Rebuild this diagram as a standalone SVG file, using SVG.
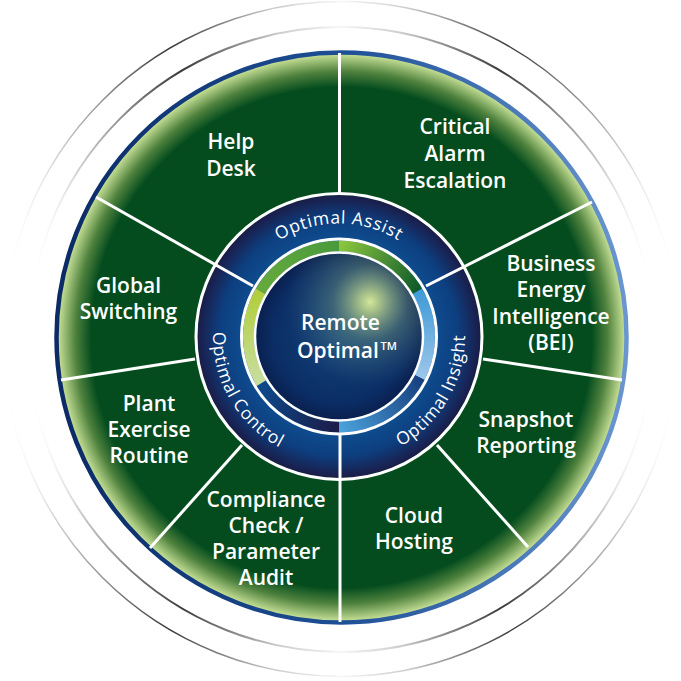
<svg xmlns="http://www.w3.org/2000/svg" width="681" height="681" viewBox="0 0 681 681">
  <defs>
    <linearGradient id="arcFade" x1="0" y1="0" x2="1" y2="0">
      <stop offset="0" stop-color="#ffffff" stop-opacity="0"/>
      <stop offset="0.08" stop-color="#d0d0d0"/>
      <stop offset="0.245" stop-color="#3a3a3a"/>
      <stop offset="0.4" stop-color="#cccccc"/>
      <stop offset="0.5" stop-color="#f6f6f6"/>
      <stop offset="0.6" stop-color="#cccccc"/>
      <stop offset="0.755" stop-color="#3a3a3a"/>
      <stop offset="0.92" stop-color="#d0d0d0"/>
      <stop offset="1" stop-color="#ffffff" stop-opacity="0"/>
    </linearGradient>
    <radialGradient id="discFill" gradientUnits="userSpaceOnUse" cx="341.5" cy="337.5" r="283">
      <stop offset="0" stop-color="#044c1e"/>
      <stop offset="0.885" stop-color="#044c1e"/>
      <stop offset="0.94" stop-color="#4e813d"/>
      <stop offset="1" stop-color="#c3dd93"/>
    </radialGradient>
    <linearGradient id="discBorder" x1="0" y1="0" x2="1" y2="0">
      <stop offset="0" stop-color="#0b2a66"/>
      <stop offset="0.5" stop-color="#1d4f95"/>
      <stop offset="1" stop-color="#6a96d0"/>
    </linearGradient>
    <radialGradient id="ringFill" gradientUnits="userSpaceOnUse" cx="339" cy="336.5" r="141.5">
      <stop offset="0.68" stop-color="#0e4d8f"/>
      <stop offset="0.84" stop-color="#0d3f80"/>
      <stop offset="1" stop-color="#1b1c48"/>
    </radialGradient>
    <radialGradient id="coreFill" gradientUnits="userSpaceOnUse" cx="339" cy="336.5" r="83">
      <stop offset="0" stop-color="#14447c"/>
      <stop offset="0.8" stop-color="#0b2d65"/>
      <stop offset="1" stop-color="#0a2050"/>
    </radialGradient>
    <radialGradient id="coreGlow" gradientUnits="userSpaceOnUse" cx="370" cy="302" r="85">
      <stop offset="0" stop-color="#d4e69a" stop-opacity="1"/>
      <stop offset="0.12" stop-color="#b8d18c" stop-opacity="0.88"/>
      <stop offset="0.45" stop-color="#6f957f" stop-opacity="0.45"/>
      <stop offset="1" stop-color="#3a6a80" stop-opacity="0"/>
    </radialGradient>
    <linearGradient id="gA1" gradientUnits="userSpaceOnUse" x1="260.6" y1="291.3" x2="339" y2="246">
      <stop offset="0" stop-color="#66aa3c"/><stop offset="1" stop-color="#4a9a3c"/>
    </linearGradient>
    <linearGradient id="gA2" gradientUnits="userSpaceOnUse" x1="339" y1="246" x2="417.4" y2="291.3">
      <stop offset="0" stop-color="#8cc63f"/><stop offset="1" stop-color="#0e5a2a"/>
    </linearGradient>
    <linearGradient id="gI1" gradientUnits="userSpaceOnUse" x1="417.4" y1="291.3" x2="419.6" y2="377.6">
      <stop offset="0" stop-color="#3f9bd6"/><stop offset="1" stop-color="#9cc6ea"/>
    </linearGradient>
    <linearGradient id="gI2" gradientUnits="userSpaceOnUse" x1="419.6" y1="377.6" x2="339" y2="427">
      <stop offset="0" stop-color="#173f7e"/><stop offset="1" stop-color="#4aa2dc"/>
    </linearGradient>
    <linearGradient id="gC1" gradientUnits="userSpaceOnUse" x1="339" y1="427" x2="261.4" y2="383.1">
      <stop offset="0" stop-color="#1c1c48"/><stop offset="1" stop-color="#0d4a8c"/>
    </linearGradient>
    <linearGradient id="gC2" gradientUnits="userSpaceOnUse" x1="261.4" y1="383.1" x2="260.6" y2="291.3">
      <stop offset="0" stop-color="#c8dea0"/><stop offset="1" stop-color="#b0ce3a"/>
    </linearGradient>
    <path id="pAssist" d="M226,336.5 A113,113 0 0 1 452,336.5"/>
    <path id="pControl" d="M276,227.38 A126,126 0 0 0 402,445.62"/>
    <path id="pInsight" d="M276,445.62 A126,126 0 0 0 402,227.38"/>
  </defs>
  <style>
    .halo { fill: none; stroke: url(#arcFade); }
    .div { stroke: #ffffff; stroke-width: 3; fill: none; }
    .wc { fill: none; stroke: #ffffff; }
    .band { fill: none; stroke-width: 11; }
    .lbl { fill: #ffffff; font-family: "Open Sans", "Liberation Sans", sans-serif; font-size: 21px; font-weight: 600; text-anchor: middle; }
    .ring { fill: #ffffff; font-family: "Open Sans", "Liberation Sans", sans-serif; font-size: 17.5px; font-weight: 400; letter-spacing: 0.7px; text-anchor: middle; }
    .core { fill: #ffffff; font-family: "Open Sans", "Liberation Sans", sans-serif; font-size: 21px; font-weight: 600; }
    .tm { fill: #ffffff; font-family: "Open Sans", "Liberation Sans", sans-serif; font-size: 11px; font-weight: 600; }
  </style>

  <g id="halo">
    <path class="halo" stroke-width="1.5" d="M3.5,339 A337.5,337.5 0 0 1 678.5,339"/>
    <path class="halo" stroke-width="1.5" d="M3.5,339 A337.5,337.5 0 0 0 678.5,339"/>
    <path class="halo" stroke-width="2" d="M28.5,339.5 A312.5,312.5 0 0 1 653.5,339.5"/>
    <path class="halo" stroke-width="2" d="M28.5,339.5 A312.5,312.5 0 0 0 653.5,339.5"/>
  </g>

  <g id="disc">
    <circle cx="341.5" cy="337.5" r="284" fill="url(#discFill)"/>
    <circle cx="341.5" cy="337.5" r="285" fill="none" stroke="url(#discBorder)" stroke-width="4.5"/>
  </g>

  <g id="ring">
    <circle cx="339" cy="336.5" r="141.5" fill="url(#ringFill)"/>
    <path class="band" stroke="url(#gA1)" d="M260.62,291.25 A90.5,90.5 0 0 1 339,246"/>
    <path class="band" stroke="url(#gA2)" d="M339,246 A90.5,90.5 0 0 1 417.38,291.25"/>
    <path class="band" stroke="url(#gI1)" d="M417.38,291.25 A90.5,90.5 0 0 1 419.64,377.59"/>
    <path class="band" stroke="url(#gI2)" d="M419.64,377.59 A90.5,90.5 0 0 1 339,427"/>
    <path class="band" stroke="url(#gC1)" d="M339,427 A90.5,90.5 0 0 1 261.43,383.11"/>
    <path class="band" stroke="url(#gC2)" d="M261.43,383.11 A90.5,90.5 0 0 1 260.62,291.25"/>
    <circle class="wc" cx="339" cy="336.5" r="143" stroke-width="3"/>
    <circle class="wc" cx="339" cy="336.5" r="97.5" stroke-width="3"/>
  </g>

  <g id="connectors">
    <line class="div" x1="339.5" y1="53" x2="339.5" y2="193"/>
    <line class="div" x1="253" y1="286" x2="96" y2="197"/>
    <line class="div" x1="426" y1="286" x2="592" y2="202"/>
    <line class="div" x1="340" y1="434" x2="340" y2="622"/>
    <line class="div" x1="195" y1="359" x2="61" y2="380"/>
    <line class="div" x1="242" y1="445" x2="150" y2="548"/>
    <line class="div" x1="483" y1="359" x2="622" y2="380"/>
    <line class="div" x1="437" y1="445" x2="528" y2="547"/>
  </g>

  <g id="core">
    <circle cx="339" cy="336.5" r="83" fill="url(#coreFill)"/>
    <circle cx="339" cy="336.5" r="83" fill="url(#coreGlow)"/>
    <circle class="wc" cx="339" cy="336.5" r="84" stroke-width="2.5"/>
    <text class="core" x="340.5" y="330" text-anchor="middle">Remote</text>
    <text class="core" x="297" y="358">Optimal</text>
    <text class="tm" x="380.5" y="350">TM</text>
  </g>

  <g id="optimal-assist">
    <text class="ring"><textPath href="#pAssist" startOffset="50%">Optimal Assist</textPath></text>
  </g>
  <g id="optimal-control">
    <text class="ring"><textPath href="#pControl" startOffset="50%">Optimal Control</textPath></text>
  </g>
  <g id="optimal-insight">
    <text class="ring"><textPath href="#pInsight" startOffset="50%">Optimal Insight</textPath></text>
  </g>

  <g id="help-desk">
    <text class="lbl" x="231" y="149">Help</text>
    <text class="lbl" x="231" y="176">Desk</text>
  </g>
  <g id="critical-alarm-escalation">
    <text class="lbl" x="455" y="134">Critical</text>
    <text class="lbl" x="455" y="161">Alarm</text>
    <text class="lbl" x="455" y="188">Escalation</text>
  </g>
  <g id="business-energy-intelligence">
    <text class="lbl" x="551" y="271">Business</text>
    <text class="lbl" x="551" y="297">Energy</text>
    <text class="lbl" x="551" y="324">Intelligence</text>
    <text class="lbl" x="551" y="350">(BEI)</text>
  </g>
  <g id="snapshot-reporting">
    <text class="lbl" x="526" y="427">Snapshot</text>
    <text class="lbl" x="526" y="453">Reporting</text>
  </g>
  <g id="cloud-hosting">
    <text class="lbl" x="414" y="523">Cloud</text>
    <text class="lbl" x="414" y="549">Hosting</text>
  </g>
  <g id="compliance-check">
    <text class="lbl" x="266" y="507">Compliance</text>
    <text class="lbl" x="266" y="533">Check /</text>
    <text class="lbl" x="266" y="559">Parameter</text>
    <text class="lbl" x="266" y="585">Audit</text>
  </g>
  <g id="plant-exercise-routine">
    <text class="lbl" x="149" y="411">Plant</text>
    <text class="lbl" x="149" y="437">Exercise</text>
    <text class="lbl" x="149" y="463">Routine</text>
  </g>
  <g id="global-switching">
    <text class="lbl" x="128.5" y="293">Global</text>
    <text class="lbl" x="128.5" y="319">Switching</text>
  </g>
</svg>
